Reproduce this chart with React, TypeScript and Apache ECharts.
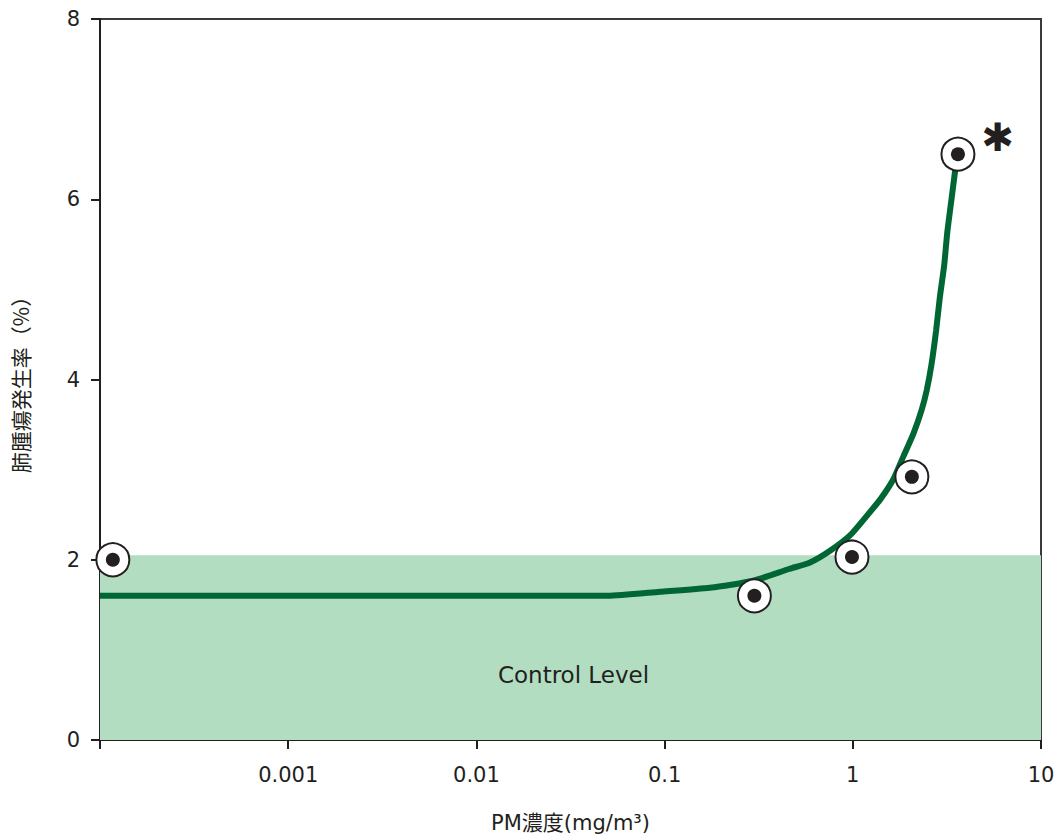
import React, { useEffect, useRef } from "react";
import * as echarts from "echarts";

// Observed tumour incidence by PM concentration
const doses = [0.000117, 0.3, 0.99, 2.06, 3.62];
const incidence = [2.0, 1.6, 2.03, 2.92, 6.5];

// Fitted dose–response curve
const curveDose = [
  0.0001, 0.001, 0.01, 0.05, 0.0945, 0.174, 0.252, 0.3, 0.463, 0.593, 0.757, 0.966,
  1.19, 1.4, 1.64, 1.86, 2.1, 2.32, 2.47, 2.62, 2.77, 2.9, 3.06, 3.18, 3.35, 3.49, 3.62,
];
const curveIncidence = [
  1.6, 1.6, 1.6, 1.6, 1.645, 1.69, 1.74, 1.77, 1.9, 1.97, 2.1, 2.27,
  2.49, 2.67, 2.89, 3.15, 3.4, 3.66, 3.88, 4.17, 4.54, 4.91, 5.27, 5.64, 6.01, 6.3, 6.5,
];

// Control level band
const controlLevel = 2.05;

const xTickLabels = ["0.001", "0.01", "0.1", "1", "10"];
const yTicks = [0, 2, 4, 6, 8];

const INK = "#231f20";
const FONT = "'DejaVu Sans', 'Noto Sans CJK JP', sans-serif";

export default function App() {
  const ref = useRef<HTMLDivElement>(null);

  useEffect(() => {
    document.body.style.margin = "0";
    if (!ref.current) return;
    const chart = echarts.init(ref.current, null, { renderer: "svg" });

    const fmtX = (v: number) => {
      const s = xTickLabels.find((t) => Math.abs(Math.log10(parseFloat(t)) - Math.log10(v)) < 1e-6);
      return s ?? "";
    };

    chart.setOption({
      animation: false,
      backgroundColor: "#ffffff",
      textStyle: { fontFamily: FONT, color: INK },
      grid: {
        left: 100,
        right: 18,
        top: 19,
        bottom: 92,
        show: true,
        borderColor: "#3a3a3a",
        borderWidth: 2,
        backgroundColor: "transparent",
      },
      xAxis: {
        type: "log",
        logBase: 10,
        min: 0.0001,
        max: 10,
        name: "PM濃度(mg/m³)",
        nameLocation: "middle",
        nameGap: 72,
        nameTextStyle: { fontSize: 21, color: INK, fontFamily: FONT },
        axisLine: { lineStyle: { color: INK, width: 2 } },
        axisTick: { show: true, length: 9, inside: false, lineStyle: { color: INK, width: 2 } },
        axisLabel: {
          formatter: fmtX,
          fontSize: 21,
          color: INK,
          margin: 24,
          fontFamily: FONT,
        },
        splitLine: { show: false },
        minorTick: { show: false },
      },
      yAxis: {
        type: "value",
        min: yTicks[0],
        max: yTicks[yTicks.length - 1],
        interval: 2,
        name: "肺腫瘍発生率（%）",
        nameLocation: "middle",
        nameGap: 70,
        nameRotate: 90,
        nameTextStyle: { fontSize: 21, color: INK, fontFamily: "'Noto Sans CJK JP', sans-serif" },
        axisLine: { show: true, lineStyle: { color: INK, width: 2 } },
        axisTick: { show: true, length: 9, lineStyle: { color: INK, width: 2 } },
        axisLabel: { fontSize: 21, color: INK, margin: 20, fontFamily: FONT },
        splitLine: { show: false },
      },
      series: [
        {
          type: "line",
          data: curveDose.map((d, i) => [d, curveIncidence[i]]),
          smooth: 0.2,
          showSymbol: false,
          symbol: "none",
          lineStyle: { color: "#006633", width: 6 },
          z: 3,
          markArea: {
            silent: true,
            itemStyle: { color: "#b2ddc1" },
            label: {
              show: true,
              position: "inside",
              offset: [3, 27],
              color: INK,
              fontSize: 23,
              fontFamily: FONT,
            },
            data: [[{ name: "Control Level", yAxis: 0, x: 100 }, { yAxis: controlLevel, x: 1041 }]],
          },
        },
        {
          type: "scatter",
          data: doses.map((d, i) =>
            i === doses.length - 1
              ? {
                  value: [d, incidence[i]],
                  label: {
                    show: true,
                    formatter: "✱",
                    position: "right",
                    offset: [1, -17],
                    fontSize: 39,
                    color: INK,
                    fontFamily: "'DejaVu Sans', sans-serif",
                  },
                }
              : [d, incidence[i]]
          ),
          symbol: "circle",
          symbolSize: 33,
          itemStyle: { color: "#ffffff", borderColor: INK, borderWidth: 2, opacity: 1 },
          z: 4,
        },
        {
          type: "scatter",
          data: doses.map((d, i) => [d, incidence[i]]),
          symbol: "circle",
          symbolSize: 14,
          itemStyle: { color: INK, opacity: 1 },
          z: 5,
        },
      ],
    });

    return () => chart.dispose();
  }, []);

  return <div ref={ref} style={{ width: 1059, height: 838 }} />;
}
